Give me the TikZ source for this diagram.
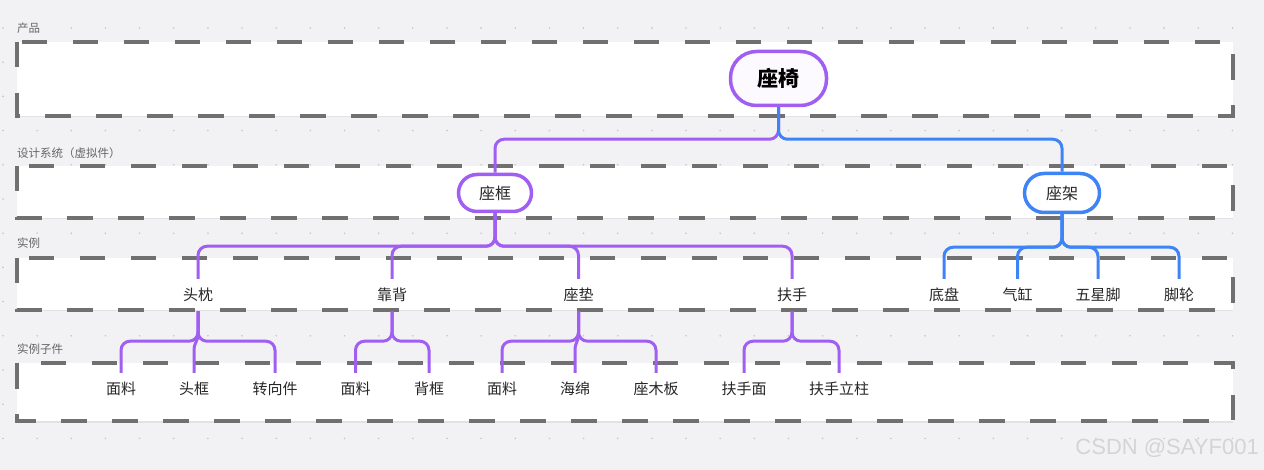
\documentclass[tikz,border=0pt]{standalone}
\usepackage{fontspec}
\newfontfamily\cjk{Noto Sans CJK SC}
\newfontfamily\wm{Liberation Sans}
\usetikzlibrary{calc}
\definecolor{bg}{HTML}{F2F2F4}
\definecolor{dotc}{HTML}{C6C6CA}
\definecolor{dashc}{HTML}{707070}
\definecolor{shad}{HTML}{E2E2E5}
\definecolor{pur}{HTML}{A05EF2}
\definecolor{blu}{HTML}{3F84F6}
\definecolor{txt}{HTML}{262626}
\definecolor{lbl}{HTML}{666666}
\definecolor{wmc}{HTML}{D4D4D7}
\begin{document}
\begin{tikzpicture}[x=1pt,y=-1pt,
  lane/.style={draw=dashc, line width=4.5pt, dash pattern=on 25.5pt off 25.5pt, fill=white},
  laneshadow/.style={fill=shad},
  lanelbl/.style={anchor=west, inner sep=0pt, font=\cjk\fontsize{11.5}{12}\selectfont, text=lbl},
  pillbox/.style={line width=3.5pt, fill=white, inner sep=0pt, text=black},
  item/.style={inner sep=0pt, minimum height=32pt, minimum width=30pt, font=\cjk\fontsize{15}{16}\selectfont, text=txt},
  pline/.style={draw=pur, line width=3pt, rounded corners=9pt},
  bline/.style={draw=blu, line width=3pt, rounded corners=9pt},
  pcurve/.style={draw=pur, line width=3pt},
]
\useasboundingbox (0,0) rectangle (1264,470);
\fill[bg] (0,0) rectangle (1264,470);
\foreach \i in {0,...,36} {
  \foreach \j in {0,...,12} {
    \fill[dotc] ({3+34.15*\i},{28+34.2*\j}) circle (0.9pt);
  }
}
% lanes
\fill[laneshadow] (17,43.5) rectangle (1233,117.5);
\fill[laneshadow] (17,167.5) rectangle (1233,219.5);
\fill[laneshadow] (17,259.5) rectangle (1233,311.5);
\fill[laneshadow] (17,364.5) rectangle (1233,422.5);
\path[lane] (17,42) rectangle (1233,116);
\path[lane] (17,166) rectangle (1233,218);
\path[lane] (17,258) rectangle (1233,310);
\path[lane] (17,363) rectangle (1233,421);
\node[lanelbl] (l1) at (17,28) {产品};
\node[lanelbl] (l2) at (17,153) {设计系统（虚拟件）};
\node[lanelbl] (l3) at (17,243) {实例};
\node[lanelbl] (l4) at (17,349) {实例子件};

% nodes
\node[pillbox, draw=pur, fill=white!97!pur, rounded corners=26pt, minimum width=96pt, minimum height=54pt,
      font=\cjk\bfseries\fontsize{21}{22}\selectfont] (chair) at (778.5,78.5) {座椅};
\node[pillbox, draw=pur, rounded corners=18.5pt, minimum width=73pt, minimum height=37pt,
      font=\cjk\fontsize{16}{17}\selectfont, text=txt] (frame) at (495,193) {座框};
\node[pillbox, draw=blu, rounded corners=19.5pt, minimum width=75pt, minimum height=39pt,
      font=\cjk\fontsize{16}{17}\selectfont, text=txt] (stand) at (1062,193) {座架};

\node[item] (headrest) at (198,295) {头枕};
\node[item] (back) at (392,295) {靠背};
\node[item] (cushion) at (578.5,295) {座垫};
\node[item] (arm) at (792,295) {扶手};
\node[item] (base) at (944,295) {底盘};
\node[item] (cyl) at (1017.5,295) {气缸};
\node[item] (star) at (1098,295) {五星脚};
\node[item] (wheel) at (1179,295) {脚轮};

\node[item] (hfab) at (121,389) {面料};
\node[item] (hfr) at (194,389) {头框};
\node[item] (hsw) at (275,389) {转向件};
\node[item] (bfab) at (355.5,389) {面料};
\node[item] (bfr) at (429,389) {背框};
\node[item] (cfab) at (502,389) {面料};
\node[item] (csp) at (575,389) {海绵};
\node[item] (cwd) at (656,389) {座木板};
\node[item] (asf) at (744,389) {扶手面};
\node[item] (apo) at (839,389) {扶手立柱};

% connectors
\draw[pline] (chair.south) -- ++(0,32) -| (frame.north);
\draw[bline] (chair.south) -- ++(0,32) -| (stand.north);

\foreach \c in {headrest,back,cushion,arm} {
  \draw[pline] (frame.south) -- ++(0,33) -| (\c.north);
}
\foreach \c in {base,cyl,star,wheel} {
  \draw[bline] (stand.south) -- ++(0,33) -| (\c.north);
}

\draw[pline] (headrest.south) -- ++(0,30) -| (hfab.north);
\draw[pline] (headrest.south) -- ++(0,30) -| (hsw.north);
\draw[pcurve] (headrest.south) -- ++(0,22) .. controls +(0,9) and +(0,-9) .. ($(hfr.north)+(0,-22)$) -- (hfr.north);

\draw[pline] (back.south) -- ++(0,30) -| (bfab.north);
\draw[pline] (back.south) -- ++(0,30) -| (bfr.north);

\draw[pline] (cushion.south) -- ++(0,30) -| (cfab.north);
\draw[pline] (cushion.south) -- ++(0,30) -| (cwd.north);
\draw[pcurve] (cushion.south) -- ++(0,22) .. controls +(0,9) and +(0,-9) .. ($(csp.north)+(0,-22)$) -- (csp.north);

\draw[pline] (arm.south) -- ++(0,30) -| (asf.north);
\draw[pline] (arm.south) -- ++(0,30) -| (apo.north);

\node[anchor=east, inner sep=0pt, font=\wm\fontsize{22}{22}\selectfont, text=wmc] (mark) at (1259,448) {CSDN @SAYF001};
\end{tikzpicture}
\end{document}
